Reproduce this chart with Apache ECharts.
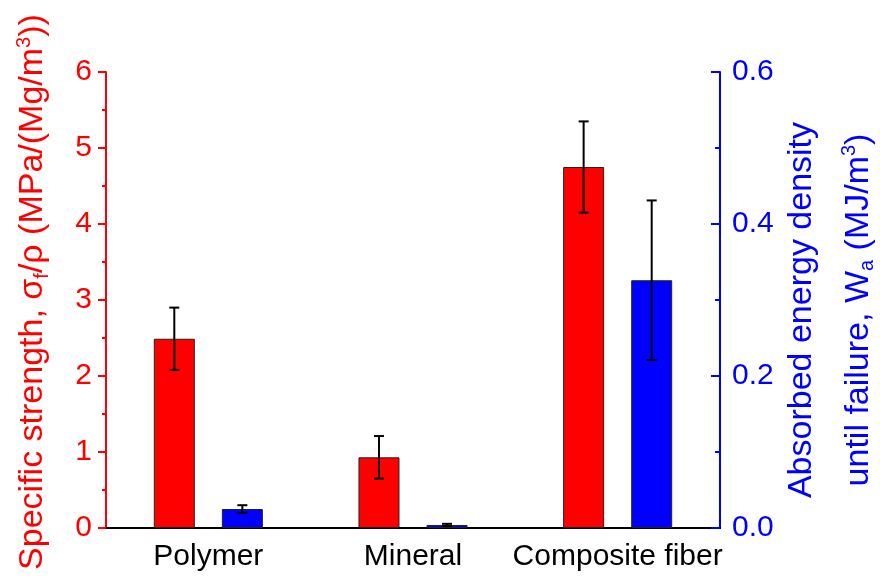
<!DOCTYPE html>
<html>
<head>
<meta charset="utf-8">
<script src="https://cdn.jsdelivr.net/npm/echarts@6/dist/echarts.min.js"></script>
<style>html,body{margin:0;padding:0;background:#fff;}#c{width:880px;height:583px;}</style>
</head>
<body>
<div id="c"></div>
<script>
// ---- data ----
const categories = ['Polymer', 'Mineral', 'Composite fiber'];
const strength = [2.49, 0.93, 4.75];          // MPa/(Mg/m^3), left axis
const strengthErr = [0.41, 0.28, 0.60];
const energy = [0.025, 0.004, 0.326];          // MJ/m^3, right axis
const energyErr = [0.005, 0.0015, 0.105];
const leftTicks = { min: 0, max: 6, interval: 1 };
const rightTicks = { min: 0, max: 0.6, interval: 0.2 };

// ---- style ----
const FONT = 'Liberation Sans';
const FS = 30;      // tick & category labels
const TFS = 34;     // axis titles
const SFS = 20;     // sub/superscripts
const RED = '#ff0000', BLUE = '#0000ff';
const BAR_W = 41, GAP = 0.66;
const OFFSET = BAR_W * (1 + GAP) / 2;

function errData(vals, errs) {
  return vals.map((v, i) => [i, v - errs[i], v + errs[i]]);
}
function errRender(sign) {
  return function (params, api) {
    const i = api.value(0);
    const lo = api.coord([i, api.value(1)]);
    const hi = api.coord([i, api.value(2)]);
    const x = lo[0] + sign * OFFSET;
    const cap = 5;
    const st = { stroke: '#000', lineWidth: 2 };
    return {
      type: 'group',
      children: [
        { type: 'line', shape: { x1: x, y1: lo[1], x2: x, y2: hi[1] }, style: st },
        { type: 'line', shape: { x1: x - cap, y1: hi[1], x2: x + cap, y2: hi[1] }, style: st },
        { type: 'line', shape: { x1: x - cap, y1: lo[1], x2: x + cap, y2: lo[1] }, style: st }
      ]
    };
  };
}

function richFor(color) {
  return {
    a: { fontFamily: FONT, fontSize: TFS, color: color, lineHeight: 38 },
    sub: { fontFamily: FONT, fontSize: SFS, color: color, lineHeight: 38, verticalAlign: 'bottom' },
    sup: { fontFamily: FONT, fontSize: SFS, color: color, lineHeight: 38, verticalAlign: 'top' },
    g: { fontFamily: FONT, fontSize: 1, lineHeight: 19 }
  };
}

const chart = echarts.init(document.getElementById('c'), null, { renderer: 'canvas' });
chart.setOption({
  animation: false,
  backgroundColor: '#fff',
  grid: { left: 106, right: 160, top: 72, bottom: 55, containLabel: false, outerBoundsMode: 'none' },
  xAxis: [
    {
      type: 'category', data: categories, position: 'bottom',
      axisLine: { lineStyle: { color: '#000', width: 2 } },
      axisTick: { show: false },
      axisLabel: { fontFamily: FONT, fontSize: FS, color: '#000', margin: 14, interval: 0 }
    },
    {
      type: 'category', data: categories, position: 'top',
      axisLine: { lineStyle: { color: '#000', width: 2 } },
      axisTick: { show: false }, axisLabel: { show: false }
    }
  ],
  yAxis: [
    {
      type: 'value', position: 'left',
      min: leftTicks.min, max: leftTicks.max, interval: leftTicks.interval,
      name: '{a|Specific strength, σ}{sub|f}{a|/ρ (MPa/(Mg/m}{sup|3}{a|))}',
      nameLocation: 'middle', nameGap: 54, nameRotate: 90,
      nameTextStyle: { rich: richFor(RED), padding: [0, 0, 0, 16] },
      axisLine: { show: true, onZero: false, lineStyle: { color: RED, width: 2 } },
      axisTick: { show: true, inside: false, length: 8, lineStyle: { color: RED, width: 2 } },
      minorTick: { show: true, splitNumber: 2, length: 4, lineStyle: { color: RED, width: 2 } },
      splitLine: { show: false },
      axisLabel: { fontFamily: FONT, fontSize: FS, color: RED, margin: 14 }
    },
    {
      type: 'value', position: 'right',
      min: rightTicks.min, max: rightTicks.max, interval: rightTicks.interval,
      name: '{a|Absorbed energy density}\n{g| }\n{a|until failure, W}{sub|a}{a| (MJ/m}{sup|3}{a|)}',
      nameLocation: 'middle', nameGap: 62, nameRotate: 90,
      nameTextStyle: { rich: richFor(BLUE), padding: [0, 20, 0, 0] },
      axisLine: { show: true, onZero: false, lineStyle: { color: BLUE, width: 2 } },
      axisTick: { show: true, inside: true, length: 9, lineStyle: { color: BLUE, width: 2 } },
      minorTick: { show: true, splitNumber: 2, length: 5, lineStyle: { color: BLUE, width: 2 } },
      splitLine: { show: false },
      axisLabel: { fontFamily: FONT, fontSize: FS, color: BLUE, margin: 12,
        formatter: v => v.toFixed(1) }
    }
  ],
  series: [
    {
      name: 'Specific strength', type: 'bar', xAxisIndex: 0, yAxisIndex: 0,
      data: strength, barWidth: BAR_W, barGap: (GAP * 100) + '%',
      itemStyle: { color: RED, borderColor: '#222', borderWidth: 1 }
    },
    {
      name: 'Absorbed energy', type: 'bar', xAxisIndex: 0, yAxisIndex: 1,
      data: energy, barWidth: BAR_W, barGap: (GAP * 100) + '%',
      itemStyle: { color: BLUE, borderColor: '#222', borderWidth: 1 }
    },
    {
      type: 'custom', xAxisIndex: 0, yAxisIndex: 0, z: 10,
      data: errData(strength, strengthErr),
      encode: { x: 0, y: [1, 2] },
      renderItem: errRender(-1)
    },
    {
      type: 'custom', xAxisIndex: 0, yAxisIndex: 1, z: 10,
      data: errData(energy, energyErr),
      encode: { x: 0, y: [1, 2] },
      renderItem: errRender(1)
    }
  ]
});
</script>
</body>
</html>
